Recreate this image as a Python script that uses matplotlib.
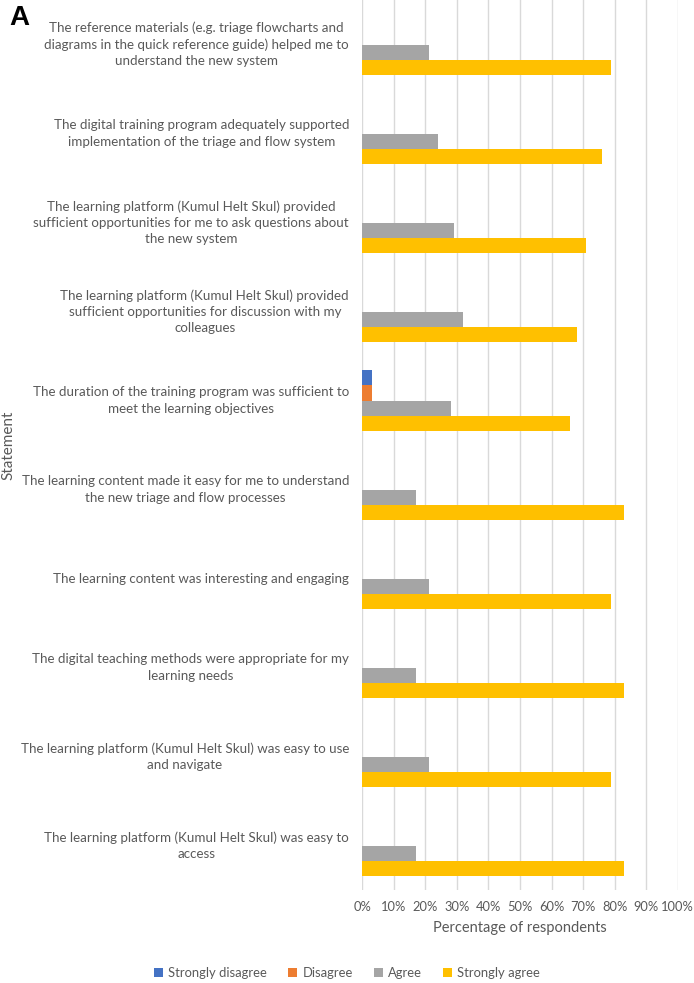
import numpy as np
import matplotlib.pyplot as plt

# --- data ---
statements = [
    "The reference materials (e.g. triage flowcharts and\ndiagrams in the quick reference guide) helped me to\nunderstand the new system",
    "The digital training program adequately supported\nimplementation of the triage and flow system",
    "The learning platform (Kumul Helt Skul) provided\nsufficient opportunities for me to ask questions about\nthe new system",
    "The learning platform (Kumul Helt Skul) provided\nsufficient opportunities for discussion with my\ncolleagues",
    "The duration of the training program was sufficient to\nmeet the learning objectives",
    "The learning content made it easy for me to understand\nthe new triage and flow processes",
    "The learning content was interesting and engaging",
    "The digital teaching methods were appropriate for my\nlearning needs",
    "The learning platform (Kumul Helt Skul) was easy to use\nand navigate",
    "The learning platform (Kumul Helt Skul) was easy to\naccess",
]
strongly_disagree = [0, 0, 0, 0, 3, 0, 0, 0, 0, 0]
disagree = [0, 0, 0, 0, 3, 0, 0, 0, 0, 0]
agree = [21, 24, 29, 32, 28, 17, 21, 17, 21, 17]
strongly_agree = [79, 76, 71, 68, 66, 83, 79, 83, 79, 83]

series = ["Strongly disagree", "Disagree", "Agree", "Strongly agree"]
colors = ["#4472C4", "#ED7D31", "#A5A5A5", "#FFC000"]
values = [strongly_disagree, disagree, agree, strongly_agree]

plt.rcParams['font.family'] = ['Lato', 'DejaVu Sans']
text_col = "#595959"

fig = plt.figure(figsize=(6.94, 9.83), dpi=100)
ax = fig.add_axes([0.522, 0.0946, 0.4545, 0.9054])

n = len(statements)
pos = np.arange(n)
bar_h = 0.174
for i, (name, vals, col) in enumerate(zip(series, values, colors)):
    offs = (i - 1.5) * bar_h
    ax.barh(pos + offs, vals, height=bar_h, color=col, label=name, zorder=3)

ax.set_ylim(n - 0.5, -0.5)
ax.set_xlim(0, 100)
ax.set_xticks(np.arange(0, 101, 10))
ax.set_xticklabels([f"{v}%" for v in range(0, 101, 10)])
ax.set_yticks(pos)
ax.set_yticklabels(statements, ha='right', va='center', multialignment='center',
                   linespacing=1.42)
ax.tick_params(axis='y', length=0, pad=9.5, labelsize=9.6, labelcolor=text_col)
ax.tick_params(axis='x', length=0, pad=8, labelsize=9.3, labelcolor=text_col)
for s in ax.spines.values():
    s.set_visible(False)
ax.grid(axis='x', color="#D9D9D9", linewidth=1, zorder=0)

ax.set_xlabel("Percentage of respondents", fontsize=10.5, color=text_col, labelpad=6)
fig.text(0.012, 0.5473, "Statement", rotation=90, ha='center', va='center',
         fontsize=11, color=text_col)

fig.text(0.013, 0.982, "A", fontsize=20, fontweight='bold', family='Liberation Sans',
         ha='left', va='center')

leg = fig.legend(loc='center', bbox_to_anchor=(0.5, 0.0102), ncol=4, frameon=False,
                 fontsize=9.4, handlelength=0.7, handleheight=0.7, handletextpad=0.4,
                 columnspacing=1.6)
for t in leg.get_texts():
    t.set_color(text_col)

fig.savefig("out.png", dpi=100)
